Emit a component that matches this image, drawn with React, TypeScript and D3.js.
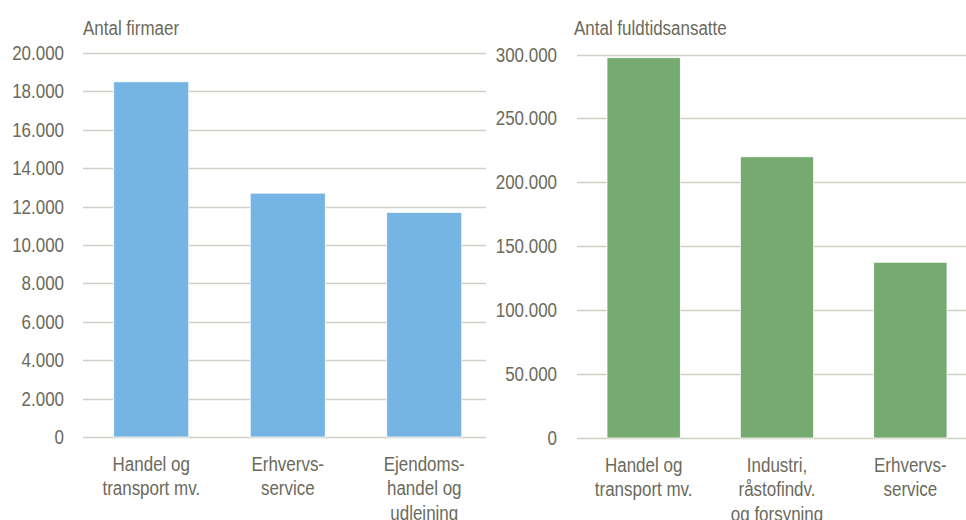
import React, { useEffect, useRef } from 'react';
import * as d3 from 'd3';

// venstre panel: antal firmaer
const firmCategories = ['Handel og\ntransport mv.', 'Erhvervs-\nservice', 'Ejendoms-\nhandel og\nudlejning'];
const firmValues = [18500, 12700, 11700];
const firmTicks = [0, 2000, 4000, 6000, 8000, 10000, 12000, 14000, 16000, 18000, 20000];

// højre panel: antal fuldtidsansatte
const empCategories = ['Handel og\ntransport mv.', 'Industri,\nråstofindv.\nog forsyning', 'Erhvervs-\nservice'];
const empValues = [297500, 220000, 137500];
const empTicks = [0, 50000, 100000, 150000, 200000, 250000, 300000];

const W = 966;
const H = 520;
const textColor = '#6b6a5c';
const gridColor = '#cfcfc6';
const fontFamily = '"Liberation Sans", Arial, sans-serif';
const fontSize = 19.5;
// teksten i originalen er lidt sammenpresset i bredden
const squeeze = 0.87;

const fmt = (v: number) => d3.format(',')(v).replace(/,/g, '.');
const place = (x: number, y: number) => `translate(${x},${y}) scale(${squeeze},1)`;

interface PanelOpts {
  title: string;
  titleX: number;
  categories: string[];
  values: number[];
  ticks: number[];
  max: number;
  x0: number;
  x1: number;
  gridEnd: number;
  labelX: number;
  y0: number;
  y1: number;
  color: string;
}

function drawPanel(svg: d3.Selection<SVGSVGElement, unknown, null, undefined>, o: PanelOpts) {
  const g = svg.append('g');
  const y = d3.scaleLinear().domain([0, o.max]).range([o.y0, o.y1]);
  const x = d3.scaleBand<string>().domain(o.categories).range([o.x0, o.x1]).paddingInner(0.45).paddingOuter(0.225);

  g.selectAll('line.grid')
    .data(o.ticks)
    .join('line')
    .attr('class', 'grid')
    .attr('x1', o.x0)
    .attr('x2', o.gridEnd)
    .attr('y1', d => Math.round(y(d)) + 0.5)
    .attr('y2', d => Math.round(y(d)) + 0.5)
    .attr('stroke', gridColor)
    .attr('stroke-width', 1.3);

  g.selectAll('text.tick')
    .data(o.ticks)
    .join('text')
    .attr('class', 'tick')
    .attr('transform', d => place(o.labelX, y(d) + 7))
    .attr('text-anchor', 'end')
    .attr('font-size', fontSize)
    .attr('font-family', fontFamily)
    .attr('fill', textColor)
    .text(d => fmt(d));

  g.selectAll('rect.bar')
    .data(o.values)
    .join('rect')
    .attr('class', 'bar')
    .attr('x', (_, i) => x(o.categories[i])!)
    .attr('width', x.bandwidth())
    .attr('y', d => y(d))
    .attr('height', d => o.y0 - y(d))
    .attr('fill', o.color)
    .attr('stroke', '#ffffff')
    .attr('stroke-width', 0.8);

  const labels = g.selectAll('text.cat')
    .data(o.categories)
    .join('text')
    .attr('class', 'cat')
    .attr('transform', d => place(x(d)! + x.bandwidth() / 2, o.y0 + 34))
    .attr('text-anchor', 'middle')
    .attr('font-size', fontSize)
    .attr('font-family', fontFamily)
    .attr('fill', textColor);

  labels.each(function (d) {
    d3.select(this)
      .selectAll('tspan')
      .data(d.split('\n'))
      .join('tspan')
      .attr('x', 0)
      .attr('dy', (_, i) => (i === 0 ? 0 : 24.5))
      .text(t => t);
  });

  g.append('text')
    .attr('transform', place(o.titleX, 35))
    .attr('font-size', fontSize)
    .attr('font-family', fontFamily)
    .attr('fill', textColor)
    .text(o.title);
}

const App: React.FC = () => {
  const svgRef = useRef<SVGSVGElement>(null);

  useEffect(() => {
    if (!svgRef.current) return;
    const svg = d3.select(svgRef.current);
    svg.selectAll('*').remove();

    drawPanel(svg, {
      title: 'Antal firmaer',
      titleX: 83,
      categories: firmCategories,
      values: firmValues,
      ticks: firmTicks,
      max: 20000,
      x0: 83,
      x1: 492.5,
      gridEnd: 486,
      labelX: 64,
      y0: 437,
      y1: 53,
      color: '#75b4e3',
    });

    drawPanel(svg, {
      title: 'Antal fuldtidsansatte',
      titleX: 574,
      categories: empCategories,
      values: empValues,
      ticks: empTicks,
      max: 300000,
      x0: 577,
      x1: 977,
      gridEnd: 966,
      labelX: 557,
      y0: 438,
      y1: 54.5,
      color: '#76aa71',
    });
  }, []);

  return (
    <div style={{ position: 'absolute', left: 0, top: 0, width: W, height: H, background: '#fff' }}>
      <svg ref={svgRef} width={W} height={H} style={{ display: 'block' }} />
    </div>
  );
};

export default App;
